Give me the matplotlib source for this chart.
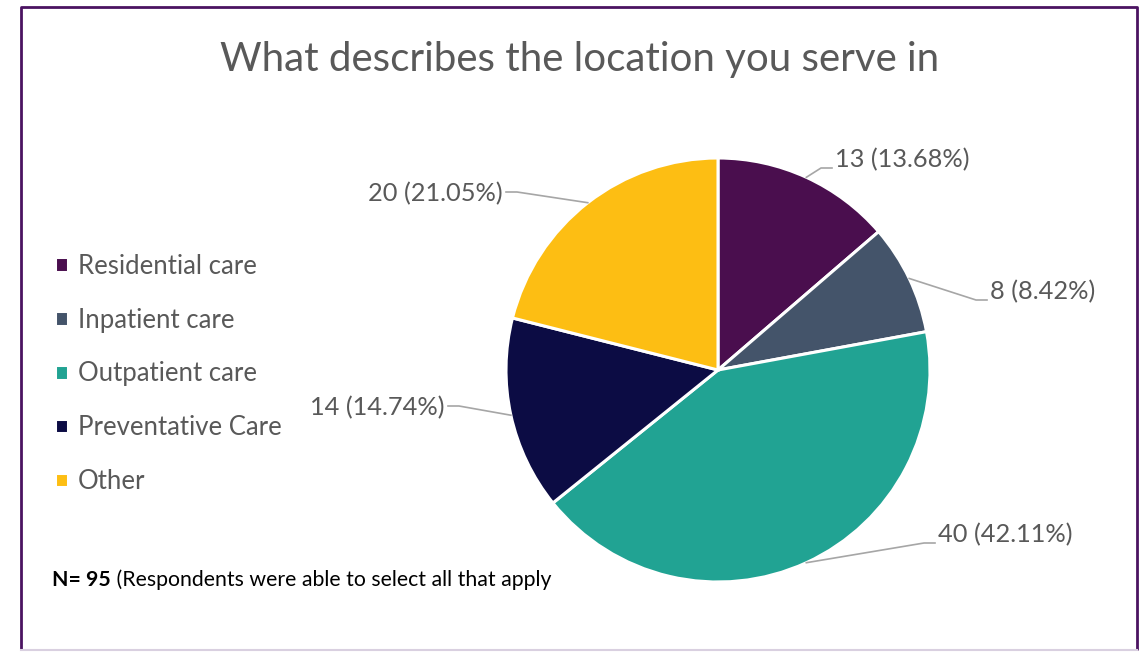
import numpy as np
import matplotlib.pyplot as plt

categories = ["Residential care", "Inpatient care", "Outpatient care", "Preventative Care", "Other"]
counts = [13, 8, 40, 14, 20]
pct_labels = ["13 (13.68%)", "8 (8.42%)", "40 (42.11%)", "14 (14.74%)", "20 (21.05%)"]
colors = ["#4A0E4E", "#44546A", "#21A393", "#0C0C44", "#FDBE13"]

plt.rcParams['font.family'] = ['Lato', 'DejaVu Sans']

W, H = 1140, 653
fig = plt.figure(figsize=(W / 100, H / 100), dpi=100)
ax = fig.add_axes([0, 0, 1, 1])

# frame
ax.plot([21, 21, 1137, 1137], [H - 650, H - 7, H - 7, H - 650], color="#4B1361", lw=2, solid_capstyle='butt')
ax.plot([21, 1137], [H - 650, H - 650], color="#D9D0E0", lw=1.5)

cx, cy, r = 718, H - 370, 212
wedges, _ = ax.pie(counts, colors=colors, startangle=90, counterclock=False,
                   center=(cx, cy), radius=r, frame=True,
                   wedgeprops=dict(edgecolor='white', linewidth=2.2))
ax.set_xlim(0, W)
ax.set_ylim(0, H)
ax.set_aspect('equal')
ax.axis('off')

# label positions (text anchor x, y in px from top) and side
label_pos = [(835, 160, 'left'), (990, 292, 'left'), (938, 535, 'left'),
             (445, 408, 'right'), (503, 194, 'right')]
for w, lab, (tx, ty, side) in zip(wedges, pct_labels, label_pos):
    mid = np.deg2rad((w.theta1 + w.theta2) / 2)
    ex, ey = cx + r * np.cos(mid), cy + r * np.sin(mid)
    ty = H - ty
    ly = ty - 8 if side == 'left' else ty + 2
    if side == 'left':
        xs = [ex, tx - 14, tx - 3]
    else:
        xs = [ex, tx + 14, tx + 3]
    ax.plot(xs, [ey, ly, ly], color="#A6A6A6", lw=1.2, zorder=1)
    ax.text(tx, ty, lab, ha=side, va='center', fontsize=18.3, color="#595959")

ax.text(580, H - 60, "What describes the location you serve in", ha='center', va='center',
        fontsize=29, color="#595959")

ax.legend(wedges, categories, loc='upper left', bbox_to_anchor=(42 / W, 1 - 241 / H),
          frameon=False, fontsize=18.5, labelcolor="#595959", handlelength=0.5,
          handleheight=0.5, handletextpad=0.4, labelspacing=1.12, borderpad=0)

t1 = ax.text(52, H - 580, "N= 95", fontsize=15.3, fontweight='bold', color='black', va='center')
ax.annotate(" (Respondents were able to select all that apply", xy=(1, 0.5), xycoords=t1,
            va='center', ha='left', fontsize=15.3, color='black')

fig.savefig("out.png", dpi=100)
